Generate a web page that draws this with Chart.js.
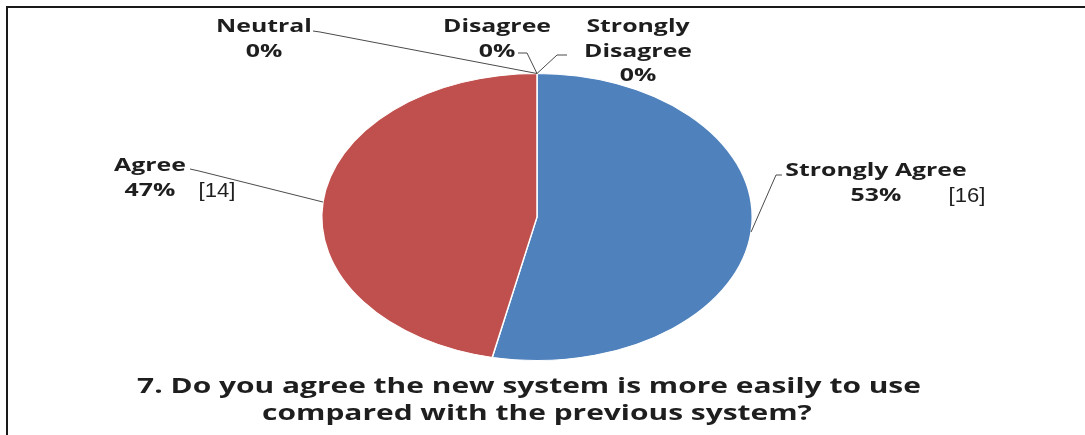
<!DOCTYPE html>
<html>
<head>
<meta charset="utf-8">
<script src="https://cdn.jsdelivr.net/npm/chart.js@4/dist/chart.umd.min.js"></script>
<style>
  html, body { margin: 0; padding: 0; background: #fff; overflow: hidden; }
  #wrap { position: relative; width: 1085px; height: 435px; }
</style>
</head>
<body>
<div id="wrap"><canvas id="c" width="1085" height="435"></canvas></div>
<script>
// Survey answers, question 7
const categories = ['Strongly Agree', 'Agree', 'Neutral', 'Disagree', 'Strongly Disagree'];
const responses = [16, 14, 0, 0, 0];
const sliceColors = ['#4F81BD', '#C0504D', '#9BBB59', '#8064A2', '#4BACC6'];
const titleLines = ['7. Do you agree the new system is more easily to use',
                    'compared with the previous system?'];

// Layout of the data labels: text anchor (centre x, first baseline y),
// the lines the category name is split into, and the label-side end of the leader line.
const labelLayout = {
  'Strongly Agree':    { x: 876, y: 176, lines: ['Strongly Agree'], countX: 967, leader: [[782, 175], [776, 175]] },
  'Agree':             { x: 150, y: 171, lines: ['Agree'], countX: 217, leader: [[190, 169], [199, 171]] },
  'Neutral':           { x: 264, y: 32, lines: ['Neutral'], leader: [[313, 31], [320, 32]] },
  'Disagree':          { x: 497, y: 32, lines: ['Disagree'], leader: [[518, 53], [527, 53]] },
  'Strongly Disagree': { x: 638, y: 32, lines: ['Strongly', 'Disagree'], leader: [[567, 55], [557, 55]] }
};

const PIE_ASPECT = 1.5;       // horizontal stretch of the pie (ellipse)
const LABEL_STRETCH = 1.38;   // horizontal stretch of the label text
const TITLE_STRETCH = 1.36;   // horizontal stretch of the title text
const LINE_GAP = 24.5;
const LABEL_FONT = 'bold 18px "Open Sans"';
const COUNT_FONT = '21px "Liberation Sans"';
const TITLE_FONT = 'bold 22px "Open Sans"';
const INK = '#1e1e1e';

function wideText(ctx, text, x, y, font, k) {
  ctx.save();
  ctx.font = font;
  ctx.fillStyle = INK;
  ctx.textAlign = 'center';
  ctx.textBaseline = 'alphabetic';
  ctx.translate(x, y);
  ctx.scale(k, 1);
  ctx.fillText(text, 0, 0);
  ctx.restore();
}

function pieCentre(chart) {
  const arc = chart.getDatasetMeta(0).data[0];
  return { x: arc.x, y: arc.y };
}

// Frame lines along the top and left edge
const framePlugin = {
  id: 'frame',
  beforeDraw(chart) {
    const ctx = chart.ctx;
    ctx.save();
    ctx.strokeStyle = '#1a1a1a';
    ctx.lineWidth = 2;
    ctx.beginPath();
    ctx.moveTo(7, chart.height);
    ctx.lineTo(7, 7);
    ctx.lineTo(chart.width, 7);
    ctx.stroke();
    ctx.restore();
  }
};

// Draw the pie as an ellipse by scaling the arcs horizontally around the centre
const ellipsePlugin = {
  id: 'ellipse',
  beforeDatasetsDraw(chart) {
    const c = pieCentre(chart);
    const ctx = chart.ctx;
    ctx.save();
    ctx.translate(c.x, c.y);
    ctx.scale(PIE_ASPECT, 1);
    ctx.translate(-c.x, -c.y);
  },
  afterDatasetsDraw(chart) {
    chart.ctx.restore();
  }
};

// Data labels with leader lines, plus the title underneath
const labelPlugin = {
  id: 'pieLabels',
  afterDraw(chart) {
    const ctx = chart.ctx;
    const meta = chart.getDatasetMeta(0);
    const values = chart.data.datasets[0].data;
    const total = values.reduce((a, b) => a + b, 0);

    meta.data.forEach((arc, i) => {
      const name = chart.data.labels[i];
      const lay = labelLayout[name];
      if (!lay) return;
      const p = arc.getProps(['x', 'y', 'startAngle', 'endAngle', 'outerRadius'], true);
      const mid = (p.startAngle + p.endAngle) / 2;
      const ex = p.x + Math.cos(mid) * p.outerRadius * PIE_ASPECT;
      const ey = p.y + Math.sin(mid) * p.outerRadius;

      // leader line
      ctx.save();
      ctx.strokeStyle = '#4a4a4a';
      ctx.lineWidth = 1;
      ctx.beginPath();
      ctx.moveTo(lay.leader[0][0], lay.leader[0][1]);
      for (let k = 1; k < lay.leader.length; k++) ctx.lineTo(lay.leader[k][0], lay.leader[k][1]);
      ctx.lineTo(ex, ey);
      ctx.stroke();
      ctx.restore();

      // name and percentage
      let y = lay.y;
      lay.lines.forEach(line => {
        wideText(ctx, line, lay.x, y, LABEL_FONT, LABEL_STRETCH);
        y += LINE_GAP;
      });
      const pct = Math.round(values[i] / total * 100) + '%';
      wideText(ctx, pct, lay.x, y, LABEL_FONT, LABEL_STRETCH);
      if (lay.countX !== undefined) {
        wideText(ctx, '[' + values[i] + ']', lay.countX, y + 1, COUNT_FONT, 1.05);
      }
    });

    // title
    wideText(ctx, titleLines[0], 529, 393, TITLE_FONT, TITLE_STRETCH);
    wideText(ctx, titleLines[1], 537, 420, TITLE_FONT, TITLE_STRETCH);
  }
};

new Chart(document.getElementById('c'), {
  type: 'pie',
  data: {
    labels: categories,
    datasets: [{
      data: responses,
      backgroundColor: sliceColors,
      borderColor: '#ffffff',
      borderWidth: 1
    }]
  },
  options: {
    responsive: false,
    animation: false,
    events: [],
    layout: { padding: { top: 73, bottom: 74, left: 393, right: 404 } },
    plugins: {
      legend: { display: false },
      tooltip: { enabled: false },
      title: { display: false }
    }
  },
  plugins: [framePlugin, ellipsePlugin, labelPlugin]
});
</script>
</body>
</html>
